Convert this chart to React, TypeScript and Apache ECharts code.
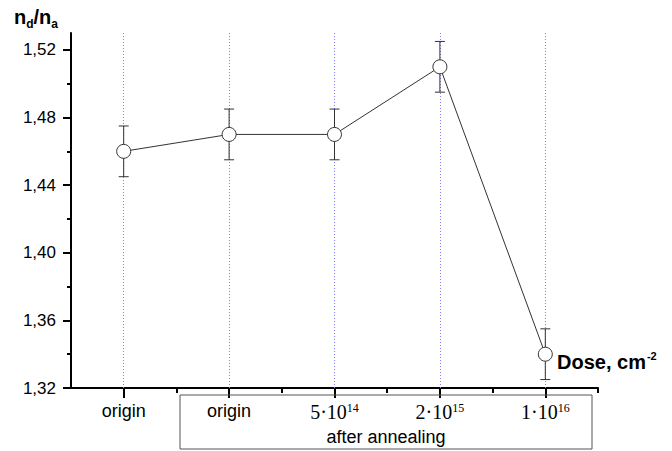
import React, { useEffect, useRef } from "react";
import * as echarts from "echarts";

const categories = ["origin", "origin", "5·10^14", "2·10^15", "1·10^16"];
const ratioValues = [1.46, 1.47, 1.47, 1.51, 1.34];
const ratioErrors = [0.015, 0.015, 0.015, 0.015, 0.015];
const yMajorTicks = [1.32, 1.36, 1.4, 1.44, 1.48, 1.52];
const yMinorTicks = [1.34, 1.38, 1.42, 1.46, 1.5];
const xMajorTicks = [0, 1, 2, 3, 4];
const xMinorTicks = [0.5, 1.5, 2.5, 3.5, 4.5];

function fmtCat(v: number): string {
  const c = categories[Math.round(v)];
  if (c === undefined) return "";
  if (c.indexOf("^") >= 0) {
    const [b, e] = c.split("^");
    return "{n|" + b + "}{sup|" + e + "}";
  }
  return "{o|" + c + "}";
}

export default function App() {
  const ref = useRef<HTMLDivElement>(null);
  useEffect(() => {
    if (!ref.current) return;
    const chart = echarts.init(ref.current, null, { renderer: "svg" });
    const lineData = ratioValues.map((v, i) => [i, v]);
    const errData = ratioValues.map((v, i) => [i, v - ratioErrors[i], v + ratioErrors[i]]);
    const axisCol = "#000";
    chart.setOption({
      animation: false,
      backgroundColor: "#fff",
      grid: { left: 71, right: 74, top: 33, bottom: 63 },
      xAxis: [
        {
          type: "value",
          min: -0.5,
          max: 4.5,
          axisLine: { show: true, onZero: false, lineStyle: { color: axisCol, width: 2 } },
          axisTick: { show: true, inside: false, customValues: xMajorTicks, length: 10, lineStyle: { color: axisCol, width: 2 } },
          axisLabel: {
            show: true,
            customValues: xMajorTicks,
            margin: 14,
            formatter: (v: number) => fmtCat(v),
            rich: {
              o: { fontFamily: "Arial, Liberation Sans", fontSize: 18, color: "#000" },
              n: { fontFamily: "Times New Roman, Liberation Serif", fontSize: 20, color: "#000" },
              sup: { fontFamily: "Times New Roman, Liberation Serif", fontSize: 12, color: "#000", padding: [0, 0, 8, 0] },
            },
          },
          splitLine: { show: false },
        },
        {
          type: "value",
          min: -0.5,
          max: 4.5,
          position: "bottom",
          axisLine: { show: false, onZero: false },
          axisTick: { show: true, inside: false, customValues: xMinorTicks, length: 5, lineStyle: { color: axisCol, width: 2 } },
          axisLabel: { show: false },
          splitLine: { show: false },
        },
      ],
      yAxis: [
        {
          type: "value",
          min: 1.32,
          max: 1.53,
          position: "left",
          axisLine: { show: true, onZero: false, lineStyle: { color: axisCol, width: 2 } },
          axisTick: { show: true, inside: false, customValues: yMajorTicks, length: 8, lineStyle: { color: axisCol, width: 2 } },
          axisLabel: {
            show: true,
            customValues: yMajorTicks,
            margin: 15,
            fontFamily: "Arial, Liberation Sans",
            fontSize: 17,
            color: "#000",
            formatter: (v: number) => v.toFixed(2).replace(".", ","),
          },
          splitLine: { show: false },
        },
        {
          type: "value",
          min: 1.32,
          max: 1.53,
          position: "left",
          axisLine: { show: false, onZero: false },
          axisTick: { show: true, inside: false, customValues: yMinorTicks, length: 4, lineStyle: { color: axisCol, width: 2 } },
          axisLabel: { show: false },
          splitLine: { show: false },
        },
      ],
      graphic: [
        {
          type: "rect",
          shape: { x: 180, y: 395, width: 412, height: 54 },
          style: { fill: "none", stroke: "#555", lineWidth: 1 },
          z: 1,
        },
        {
          type: "text",
          x: 386,
          y: 437,
          style: {
            text: "after annealing",
            fontFamily: "Arial, Liberation Sans",
            fontSize: 18,
            fill: "#000",
            textAlign: "center",
            textVerticalAlign: "middle",
          },
        },
        {
          type: "text",
          x: 14,
          y: 4,
          style: {
            text: "{b|n}{s|d}{b|/n}{s|a}",
            rich: {
              b: { fontFamily: "Arial, Liberation Sans", fontWeight: "bold", fontSize: 20, fill: "#000" },
              s: { fontFamily: "Arial, Liberation Sans", fontWeight: "bold", fontSize: 12, fill: "#000", padding: [14, 0, 0, 0] },
            },
          },
        },
        {
          type: "text",
          x: 557,
          y: 350,
          style: {
            text: "{b|Dose, cm}{s|-2}",
            rich: {
              b: { fontFamily: "Arial, Liberation Sans", fontWeight: "bold", fontSize: 20, fill: "#000" },
              s: { fontFamily: "Arial, Liberation Sans", fontWeight: "bold", fontSize: 11, fill: "#000", padding: [0, 0, 12, 1] },
            },
          },
        },
      ],
      series: [
        {
          type: "custom",
          xAxisIndex: 0,
          yAxisIndex: 0,
          z: 2,
          data: errData,
          renderItem: (params: any, api: any) => {
            const x = api.value(0);
            const lo = api.coord([x, api.value(1)]);
            const hi = api.coord([x, api.value(2)]);
            const w = 5;
            const st = { stroke: "#333", lineWidth: 1 };
            return {
              type: "group",
              children: [
                { type: "line", shape: { x1: lo[0], y1: lo[1], x2: hi[0], y2: hi[1] }, style: st },
                { type: "line", shape: { x1: lo[0] - w, y1: lo[1], x2: lo[0] + w, y2: lo[1] }, style: st },
                { type: "line", shape: { x1: hi[0] - w, y1: hi[1], x2: hi[0] + w, y2: hi[1] }, style: st },
              ],
            };
          },
        },
        {
          type: "line",
          xAxisIndex: 0,
          yAxisIndex: 0,
          z: 3,
          data: lineData,
          symbol: "circle",
          symbolSize: 14,
          lineStyle: { color: "#333", width: 1 },
          itemStyle: { color: "#fff", borderColor: "#333", borderWidth: 1 },
          markLine: {
            silent: true,
            symbol: "none",
            label: { show: false },
            lineStyle: { type: [1, 2], color: "#8080ff", width: 1 },
            data: xMajorTicks.map((v) => ({ xAxis: v })),
            z: 1,
          },
        },
      ],
    });
    return () => chart.dispose();
  }, []);
  return <div ref={ref} style={{ width: 672, height: 451, position: "absolute", left: 0, top: 0 }} />;
}
